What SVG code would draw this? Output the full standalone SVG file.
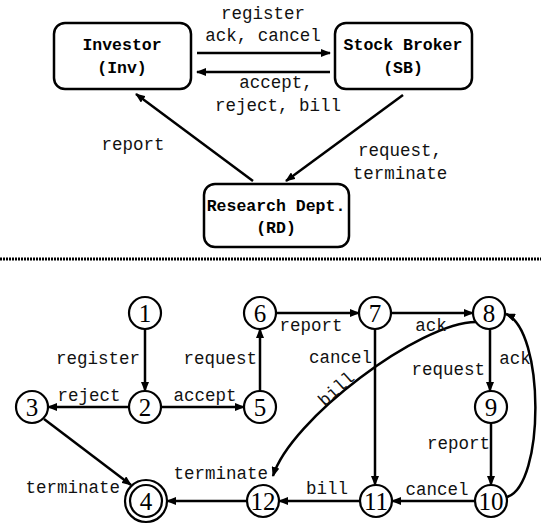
<svg xmlns="http://www.w3.org/2000/svg" width="541" height="525" viewBox="0 0 541 525">
<style>
  .box { fill: #fff; stroke: #000; stroke-width: 2.5; }
  .bt { font-family: "Liberation Mono", "Courier New", monospace; font-weight: bold; font-size: 16.5px; text-anchor: middle; fill: #000; }
  .lb { font-family: "Liberation Mono", "Courier New", monospace; font-size: 17.5px; fill: #111; }
  .c { text-anchor: middle; }
  .e { text-anchor: end; }
  .edge { fill: none; stroke: #000; stroke-width: 2.5; }
  .st { fill: #fff; stroke: #000; stroke-width: 2.2; }
  .num { font-family: "Liberation Serif", "Times New Roman", serif; font-size: 25px; text-anchor: middle; fill: #000; }
</style>
<defs>
  <marker id="ah" markerWidth="10" markerHeight="8" refX="9" refY="4" orient="auto" markerUnits="userSpaceOnUse">
    <path d="M0,0 L10,4 L0,8 Z" fill="#000"/>
  </marker>
</defs>
<rect width="541" height="525" fill="#fff"/>

<!-- top part nodes -->
<g id="investor">
  <rect class="box" x="54" y="23" width="137" height="66" rx="11"/>
  <text class="bt" x="122" y="50">Investor</text>
  <text class="bt" x="122" y="73">(Inv)</text>
</g>
<g id="broker">
  <rect class="box" x="335" y="23" width="137" height="66" rx="11"/>
  <text class="bt" x="403" y="50">Stock Broker</text>
  <text class="bt" x="403" y="73">(SB)</text>
</g>
<g id="research">
  <rect class="box" x="204" y="184" width="145" height="63" rx="11"/>
  <text class="bt" x="276" y="211">Research Dept.</text>
  <text class="bt" x="276" y="233">(RD)</text>
</g>

<g id="top-connectors">
  <line class="edge" x1="197" y1="53" x2="330" y2="53" marker-end="url(#ah)"/>
  <line class="edge" x1="330" y1="72" x2="197" y2="72" marker-end="url(#ah)"/>
  <line class="edge" x1="253" y1="181" x2="136" y2="94" marker-end="url(#ah)"/>
  <line class="edge" x1="403" y1="95" x2="286" y2="181" marker-end="url(#ah)"/>
  <text class="lb c" x="263" y="19">register</text>
  <text class="lb c" x="263" y="41">ack, cancel</text>
  <text class="lb c" x="276" y="88">accept,</text>
  <text class="lb c" x="278" y="111">reject, bill</text>
  <text class="lb c" x="133" y="150">report</text>
  <text class="lb c" x="400" y="156">request,</text>
  <text class="lb c" x="400" y="179">terminate</text>
</g>

<line x1="0" y1="259" x2="541" y2="259" stroke="#000" stroke-width="3" stroke-dasharray="2 1"/>

<!-- state machine connectors -->
<g id="fsm-connectors">
  <line class="edge" x1="145" y1="329" x2="145" y2="391" marker-end="url(#ah)"/>
  <line class="edge" x1="129" y1="407" x2="48" y2="407" marker-end="url(#ah)"/>
  <line class="edge" x1="161" y1="407" x2="244" y2="407" marker-end="url(#ah)"/>
  <line class="edge" x1="260" y1="391" x2="260" y2="329" marker-end="url(#ah)"/>
  <line class="edge" x1="276" y1="313" x2="359" y2="313" marker-end="url(#ah)"/>
  <line class="edge" x1="391" y1="313" x2="473" y2="313" marker-end="url(#ah)"/>
  <line class="edge" x1="375" y1="329" x2="375" y2="485" marker-end="url(#ah)"/>
  <line class="edge" x1="490" y1="329" x2="490" y2="391" marker-end="url(#ah)"/>
  <line class="edge" x1="491" y1="423" x2="491" y2="485" marker-end="url(#ah)"/>
  <line class="edge" x1="475" y1="501" x2="392" y2="501" marker-end="url(#ah)"/>
  <line class="edge" x1="360" y1="501" x2="279" y2="501" marker-end="url(#ah)"/>
  <line class="edge" x1="247" y1="501" x2="167" y2="501" marker-end="url(#ah)"/>
  <line class="edge" x1="44" y1="419" x2="131" y2="485" marker-end="url(#ah)"/>
  <path class="edge" d="M476,322 C420,322 290,420 273,476" marker-end="url(#ah)"/>
  <path class="edge" d="M507,497 C545,485 545,330 506,314" marker-end="url(#ah)"/>

  <text class="lb e" x="140" y="364">register</text>
  <text class="lb c" x="89" y="401">reject</text>
  <text class="lb c" x="205" y="401">accept</text>
  <text class="lb e" x="257" y="364">request</text>
  <text class="lb c" x="311" y="331">report</text>
  <text class="lb c" x="431" y="331">ack</text>
  <text class="lb e" x="372" y="363">cancel</text>
  <text class="lb e" x="485" y="375">request</text>
  <text class="lb c" x="515" y="364">ack</text>
  <text class="lb e" x="490" y="449">report</text>
  <text class="lb c" x="437" y="495">cancel</text>
  <text class="lb c" x="327" y="494">bill</text>
  <text class="lb e" x="120" y="493">terminate</text>
  <text class="lb e" x="268" y="479">terminate</text>
  <text class="lb c" transform="translate(340,393) rotate(-42)">bill</text>
</g>

<!-- states -->
<g id="s1"><circle class="st" cx="145" cy="313" r="16"/><text class="num" x="145" y="322">1</text></g>
<g id="s6"><circle class="st" cx="260" cy="313" r="16"/><text class="num" x="260" y="322">6</text></g>
<g id="s7"><circle class="st" cx="375" cy="313" r="16"/><text class="num" x="375" y="322">7</text></g>
<g id="s8"><circle class="st" cx="489" cy="313" r="16"/><text class="num" x="489" y="322">8</text></g>
<g id="s3"><circle class="st" cx="32" cy="407" r="16"/><text class="num" x="32" y="416">3</text></g>
<g id="s2"><circle class="st" cx="145" cy="407" r="16"/><text class="num" x="145" y="416">2</text></g>
<g id="s5"><circle class="st" cx="260" cy="407" r="16"/><text class="num" x="260" y="416">5</text></g>
<g id="s9"><circle class="st" cx="491" cy="407" r="16"/><text class="num" x="491" y="416">9</text></g>
<g id="s4"><circle class="st" cx="146" cy="501" r="21"/><circle class="st" cx="146" cy="501" r="16"/><text class="num" x="146" y="510">4</text></g>
<g id="s12"><circle class="st" cx="263" cy="501" r="16"/><text class="num" x="263" y="510">12</text></g>
<g id="s11"><circle class="st" cx="376" cy="501" r="16"/><text class="num" x="376" y="510">11</text></g>
<g id="s10"><circle class="st" cx="491" cy="501" r="16"/><text class="num" x="491" y="510">10</text></g>
</svg>
